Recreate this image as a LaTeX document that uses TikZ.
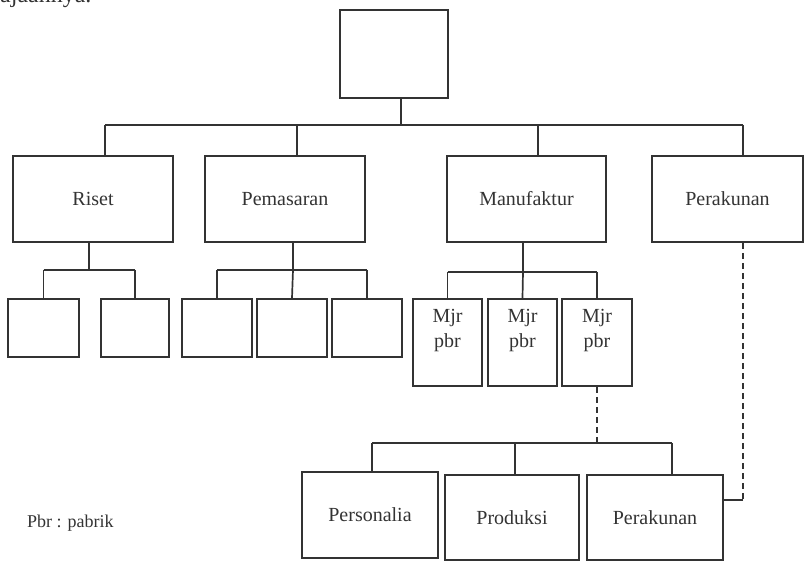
\documentclass[tikz,border=0pt]{standalone}
\usepackage{fontspec}
\setmainfont{Liberation Serif}
\definecolor{ink}{HTML}{333333}
\begin{document}
\begin{tikzpicture}[x=1pt,y=-1pt,
  box/.style={draw=ink,line width=2pt,rectangle,inner sep=0pt,font=\fontsize{20}{24}\selectfont,text=ink},
  conn/.style={draw=ink,line width=1.7pt},
  dconn/.style={draw=ink,line width=1.7pt,dash pattern=on 6pt off 4pt},
  lbl/.style={inner sep=0pt,text=ink}]
\useasboundingbox (0,0) rectangle (804,561);
% partially visible text at top (cut by the page edge, as in the reference)
\begin{scope}
\clip (0,0) rectangle (804,561);
\node[lbl,anchor=base west,font=\fontsize{24}{28}\selectfont] (toptxt) at (0,3) {ajaannya.};
\end{scope}
% level 0
\node[box,minimum width=108pt,minimum height=88pt] (top) at (394,54) {};
% level 1
\node[box,minimum width=160pt,minimum height=86pt] (riset) at (93,199) {Riset};
\node[box,minimum width=160pt,minimum height=86pt] (pem) at (285,199) {Pemasaran};
\node[box,minimum width=159pt,minimum height=86pt] (man) at (526.5,199) {Manufaktur};
\node[box,minimum width=151pt,minimum height=86pt] (per) at (727.5,199) {Perakunan};
% level 2
\node[box,minimum width=71pt,minimum height=58pt] (r1) at (43.5,328) {};
\node[box,minimum width=68pt,minimum height=58pt] (r2) at (135,328) {};
\node[box,minimum width=70pt,minimum height=58pt] (p1) at (217,328) {};
\node[box,minimum width=70pt,minimum height=58pt] (p2) at (292,328) {};
\node[box,minimum width=70pt,minimum height=58pt] (p3) at (367,328) {};
\node[box,minimum width=69pt,minimum height=87pt] (m1) at (447.5,342.5) {};
\node[box,minimum width=69pt,minimum height=87pt] (m2) at (522.5,342.5) {};
\node[box,minimum width=70pt,minimum height=87pt] (m3) at (597,342.5) {};
\node[lbl,align=center,font=\fontsize{20}{25}\selectfont] (m1t) at (447.5,331) {Mjr\\pbr};
\node[lbl,align=center,font=\fontsize{20}{25}\selectfont] (m2t) at (522.5,331) {Mjr\\pbr};
\node[lbl,align=center,font=\fontsize{20}{25}\selectfont] (m3t) at (597,331) {Mjr\\pbr};
% level 3
\node[box,minimum width=136pt,minimum height=86pt] (pers) at (370,515) {Personalia};
\node[box,minimum width=134pt,minimum height=85pt] (prod) at (512,517.5) {Produksi};
\node[box,minimum width=136pt,minimum height=85pt] (per2) at (655,517.5) {Perakunan};
% legend
\node[lbl,anchor=base west,font=\fontsize{18}{22}\selectfont] (legend) at (27,527) {Pbr : pabrik};
% bus coordinates
\coordinate (b0L) at (105,125);
\coordinate (b0R) at (743,125);
\coordinate (b0T) at (401,125);
\coordinate (b0P) at (297,125);
\coordinate (b0M) at (538,125);
\coordinate (bRM) at (89,270);
\coordinate (bRL) at (43.5,270);
\coordinate (bRR) at (135,270);
\coordinate (bPL) at (217,270);
\coordinate (bPM) at (293,270);
\coordinate (bPR) at (367,270);
\coordinate (bML) at (447.5,272);
\coordinate (bMM) at (523,272);
\coordinate (bMR) at (597,272);
\coordinate (bBL) at (372,443);
\coordinate (bBM) at (515,443);
\coordinate (bBR) at (672,443);
\coordinate (bBD) at (597,443);
\coordinate (perC) at (743,500);
\coordinate (per2E) at (723,500);
% level 0 -> 1
\draw[conn] (top.south -| b0T) -- (b0T);
\draw[conn] (b0L) -- (b0R);
\draw[conn] (b0L) -- (b0L |- riset.north);
\draw[conn] (b0P) -- (b0P |- pem.north);
\draw[conn] (b0M) -- (b0M |- man.north);
\draw[conn] (b0R) -- (b0R |- per.north);
% riset
\draw[conn] (riset.south -| bRM) -- (bRM);
\draw[conn] (bRL) -- (bRR);
\draw[conn] (bRL) -- (r1.north);
\draw[conn] (bRR) -- (r2.north);
% pemasaran
\draw[conn] (pem.south -| bPM) -- (bPM);
\draw[conn] (bPL) -- (bPR);
\draw[conn] (bPL) -- (p1.north);
\draw[conn] (bPM) -- (p2.north);
\draw[conn] (bPR) -- (p3.north);
% manufaktur
\draw[conn] (man.south -| bMM) -- (bMM);
\draw[conn] (bML) -- (bMR);
\draw[conn] (bML) -- (m1.north);
\draw[conn] (bMM) -- (m2.north);
\draw[conn] (bMR) -- (m3.north);
% dashed from Mjr pbr 3
\draw[dconn] (m3.south) -- (bBD);
\draw[conn] (bBL) -- (bBR);
\draw[conn] (bBL) -- (bBL |- pers.north);
\draw[conn] (bBM) -- (bBM |- prod.north);
\draw[conn] (bBR) -- (bBR |- per2.north);
% dashed from Perakunan
\draw[dconn] (per.south -| perC) -- (perC);
\draw[conn] (perC) -- (per2E);
\end{tikzpicture}
\end{document}
